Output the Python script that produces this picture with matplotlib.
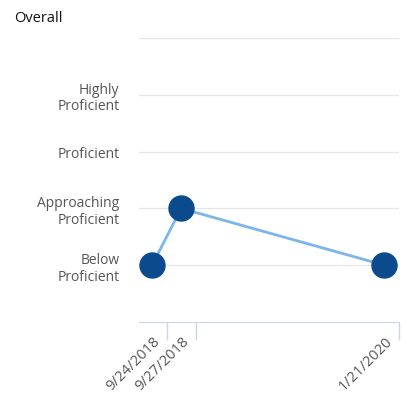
import matplotlib.pyplot as plt
from matplotlib.ticker import FixedLocator

# dados
datas = ["9/24/2018", "9/27/2018", "1/21/2020"]
posicoes = [0, 1, 8]          # posição relativa no eixo
niveis = [1, 2, 1]            # nível de proficiência
rotulos_y = ["Below\nProficient", "Approaching\nProficient", "Proficient", "Highly\nProficient"]
valores_y = [1, 2, 3, 4]

plt.rcParams['font.family'] = ['Open Sans', 'DejaVu Sans']

fig = plt.figure(figsize=(4.09, 4.02), dpi=100)
ax = fig.add_axes([139 / 409, 1 - 323 / 402, 260 / 409, 284 / 402])

ax.plot(posicoes, niveis, color="#7cb5ec", lw=2, zorder=3,
        marker="o", markersize=18, markerfacecolor="#0c4a8e",
        markeredgecolor="#0c4a8e", clip_on=False)

ax.set_xlim(-0.45, 8.5)
ax.set_ylim(0, 5)

# grelha horizontal
for v in valores_y + [5]:
    ax.axhline(v, color="#e6e6e6", lw=1, zorder=1)

ax.set_yticks(valores_y)
ax.set_yticklabels(rotulos_y, color="#555555", fontsize=10, linespacing=1.15)
ax.tick_params(axis="y", length=0, pad=14)

ax.set_xticks(posicoes)
ax.set_xticklabels(datas, rotation=45, ha="right", rotation_mode="anchor",
                   color="#555555", fontsize=10.5)
ax.tick_params(axis="x", which="major", length=0, pad=8)
ax.xaxis.set_minor_locator(FixedLocator([p + 0.5 for p in posicoes]))
ax.tick_params(axis="x", which="minor", length=13, color="#ccd6eb", width=1)

for lado in ["top", "right", "left"]:
    ax.spines[lado].set_visible(False)
ax.spines["bottom"].set_color("#ccd6eb")

fig.text(14 / 409, 1 - 18 / 402, "Overall", fontsize=10.5, color="#111111",
         va="center", ha="left")

fig.savefig("out.png", dpi=100)
